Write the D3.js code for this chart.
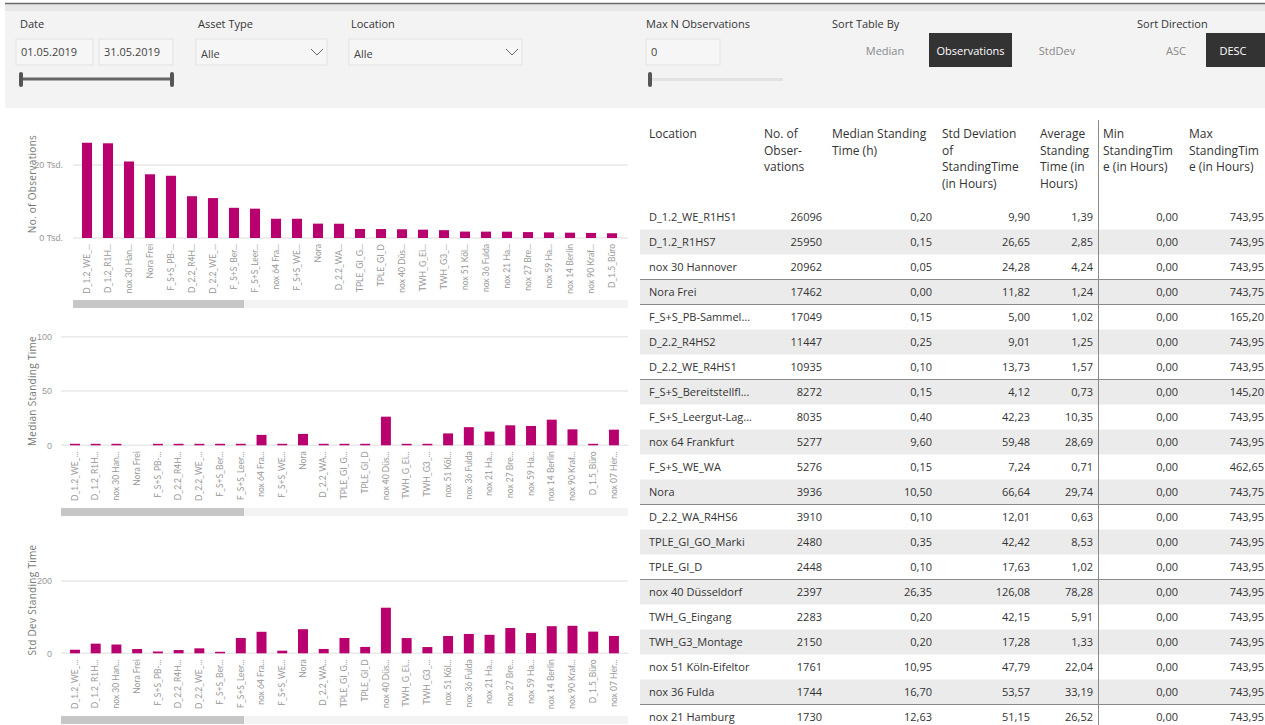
<!DOCTYPE html>
<html>
<head>
<meta charset="utf-8">
<script src="https://cdn.jsdelivr.net/npm/d3@7"></script>
<style>
  body { margin: 0; background: #fff; }
  svg { display: block; font-family: "Segoe UI", "Open Sans", sans-serif; }
</style>
</head>
<body>
<script>
// locations, sorted by number of observations (desc)
const locations = [
  'D_1.2_WE_R1HS1', 'D_1.2_R1HS7', 'nox 30 Hannover', 'Nora Frei', 'F_S+S_PB-Sammelplatz',
  'D_2.2_R4HS2', 'D_2.2_WE_R4HS1', 'F_S+S_Bereitstellfläche', 'F_S+S_Leergut-Lager', 'nox 64 Frankfurt',
  'F_S+S_WE_WA', 'Nora', 'D_2.2_WA_R4HS6', 'TPLE_GI_GO_Marki', 'TPLE_GI_D',
  'nox 40 Düsseldorf', 'TWH_G_Eingang', 'TWH_G3_Montage', 'nox 51 Köln-Eifeltor', 'nox 36 Fulda',
  'nox 21 Hamburg', 'nox 27 Bremen', 'nox 59 Hamm', 'nox 14 Berlin', 'nox 90 Kraftshof',
  'D_1.5_Büro', 'nox 07 Hermsdorf'
];
const observations = [26096, 25950, 20962, 17462, 17049, 11447, 10935, 8272, 8035, 5277,
  5276, 3936, 3910, 2480, 2448, 2397, 2283, 2150, 1761, 1744, 1730, 1620, 1540, 1460, 1390, 1300, 1220];
const medianTime = [0.20, 0.15, 0.05, 0.00, 0.15, 0.25, 0.10, 0.15, 0.40, 9.60,
  0.15, 10.50, 0.10, 0.35, 0.10, 26.35, 0.20, 0.20, 10.95, 16.70, 12.63, 18.4, 17.8, 23.6, 14.7, 0.2, 14.4];
const stdDevTime = [9.90, 26.65, 24.28, 11.82, 5.00, 9.01, 13.73, 4.12, 42.23, 59.48,
  7.24, 66.64, 12.01, 42.42, 17.63, 126.08, 42.15, 17.28, 47.79, 53.57, 51.15, 70, 56, 75, 76, 60, 48];
const avgTime = [1.39, 2.85, 4.24, 1.24, 1.02, 1.25, 1.57, 0.73, 10.35, 28.69,
  0.71, 29.74, 0.63, 8.53, 1.02, 78.28, 5.91, 1.33, 22.04, 33.19, 26.52];
const minTime = [0, 0, 0, 0, 0, 0, 0, 0, 0, 0, 0, 0, 0, 0, 0, 0, 0, 0, 0, 0, 0];
const maxTime = [743.95, 743.95, 743.95, 743.75, 165.20, 743.95, 743.95, 145.20, 743.95, 743.95,
  462.65, 743.75, 743.95, 743.95, 743.95, 743.95, 743.95, 743.95, 743.95, 743.95, 743.95];

const obsTicks = [0, 20000];
const medianTicks = [0, 50, 100];
const stdTicks = [0, 200];

const sortByOptions = ['Median', 'Observations', 'StdDev'];
const sortDirOptions = ['ASC', 'DESC'];

const de = d3.formatLocale({ decimal: ',', thousands: '.', grouping: [3], currency: ['', '€'] });
const f2 = de.format('.2f');

const W = 1265, H = 725;
const barColor = '#b8006e';

const svg = d3.select('body').append('svg').attr('width', W).attr('height', H);

function fitText(sel, maxW) {
  sel.each(function () {
    const t = d3.select(this);
    let s = t.text();
    if (this.getComputedTextLength() <= maxW) return;
    while (s.length > 1) {
      s = s.slice(0, -1);
      t.text(s + '...');
      if (this.getComputedTextLength() <= maxW) break;
    }
  });
}

// ---------- filter panel ----------
const panel = svg.append('g');
panel.append('rect').attr('x', 5).attr('y', 3).attr('width', W - 5).attr('height', 105).attr('fill', '#f3f3f3');
panel.append('rect').attr('x', 5).attr('y', 4).attr('width', W - 5).attr('height', 7).attr('fill', '#e7e7e7');
panel.append('line').attr('x1', 5).attr('x2', W).attr('y1', 3.5).attr('y2', 3.5).attr('stroke', '#6a6a6a').attr('stroke-width', 1.5);

const lbl = (x, t) => panel.append('text').attr('x', x).attr('y', 28).attr('font-size', 11).attr('fill', '#333').text(t);
lbl(20, 'Date'); lbl(198, 'Asset Type'); lbl(351, 'Location');
lbl(646, 'Max N Observations'); lbl(832, 'Sort Table By'); lbl(1137, 'Sort Direction');

function box(x, w, txt, chevron) {
  panel.append('rect').attr('x', x).attr('y', 39).attr('width', w).attr('height', 26)
    .attr('fill', '#f6f6f6').attr('stroke', '#e2e2e2');
  panel.append('text').attr('x', x + 5).attr('y', chevron ? 58 : 56).attr('font-size', 11).attr('fill', '#444').text(txt);
  if (chevron) {
    const cx = x + w - 10;
    panel.append('path').attr('d', `M${cx - 6},49 L${cx},55 L${cx + 6},49`)
      .attr('fill', 'none').attr('stroke', '#666').attr('stroke-width', 1);
  }
}
box(16, 77, '01.05.2019'); box(99, 74, '31.05.2019');
box(196, 131, 'Alle', true); box(349, 173, 'Alle', true);
box(646, 74, '0');

// date slider
panel.append('line').attr('x1', 21).attr('x2', 172).attr('y1', 79).attr('y2', 79).attr('stroke', '#666').attr('stroke-width', 3);
[19, 170].forEach(x => panel.append('rect').attr('x', x).attr('y', 72).attr('width', 4).attr('height', 15).attr('rx', 2).attr('fill', '#555'));
// max n slider
panel.append('rect').attr('x', 650).attr('y', 78).attr('width', 133).attr('height', 3).attr('fill', '#e2e2e2');
panel.append('rect').attr('x', 648).attr('y', 72).attr('width', 4).attr('height', 15).attr('rx', 2).attr('fill', '#555');

// sort buttons
const sortX = [885, 970.5, 1057];
sortByOptions.forEach((t, i) => {
  const active = t === 'Observations';
  if (active) panel.append('rect').attr('x', 929).attr('y', 33).attr('width', 83).attr('height', 34).attr('fill', '#333');
  panel.append('text').attr('x', sortX[i]).attr('y', 55).attr('text-anchor', 'middle')
    .attr('font-size', 11).attr('fill', active ? '#fff' : '#888').text(t);
});
sortDirOptions.forEach((t, i) => {
  const active = t === 'DESC';
  if (active) panel.append('rect').attr('x', 1206).attr('y', 33).attr('width', 59).attr('height', 34).attr('fill', '#333');
  panel.append('text').attr('x', i === 0 ? 1176 : 1233).attr('y', 55).attr('text-anchor', 'middle')
    .attr('font-size', 11).attr('fill', active ? '#fff' : '#888').text(t);
});

// ---------- bar charts ----------
function barChart(o) {
  const g = svg.append('g');
  const names = locations.slice(0, o.n);
  const vals = o.values.slice(0, o.n);
  const x = d3.scaleBand().domain(names).range(o.xr).paddingInner(0.52).paddingOuter(0.26);
  const y = d3.scaleLinear().domain(o.yd).range(o.yr);

  g.selectAll('.grid').data(o.ticks).enter().append('line')
    .attr('x1', o.gx0).attr('x2', 628).attr('y1', d => y(d)).attr('y2', d => y(d))
    .attr('stroke', '#e9e9e9').attr('stroke-width', 1.5);

  g.append('text').attr('transform', `translate(36,${o.titleY}) rotate(-90)`).attr('text-anchor', 'middle')
    .attr('font-size', 10).attr('fill', '#777').attr('letter-spacing', 0.3).text(o.title);

  const ax = g.append('g').attr('transform', `translate(${o.tickRight},0)`)
    .call(d3.axisLeft(y).tickValues(o.ticks).tickFormat(o.fmt).tickSize(0).tickPadding(0));
  ax.select('.domain').remove();
  ax.selectAll('text').attr('font-size', 9).attr('fill', '#999').attr('font-family', null);

  g.selectAll('.bar').data(vals).enter().append('rect')
    .attr('x', (d, i) => x(names[i]))
    .attr('width', x.bandwidth())
    .attr('y', d => y(0) - Math.max(y(0) - y(d), d > 0 ? 1.5 : 0))
    .attr('height', d => Math.max(y(0) - y(d), d > 0 ? 1.5 : 0))
    .attr('fill', barColor);

  const xa = g.append('g').attr('transform', `translate(0,${y(0) + 6})`)
    .call(d3.axisBottom(x).tickSize(0).tickPadding(0));
  xa.select('.domain').remove();
  xa.selectAll('text').attr('font-size', 8.5).attr('fill', '#999').attr('font-family', 'Lato, "Open Sans", sans-serif')
    .attr('transform', 'rotate(-90)').attr('text-anchor', 'end').attr('x', 0).attr('y', 0).attr('dy', '0.32em')
    .call(fitText, 50);

  g.append('rect').attr('x', o.gx0).attr('y', o.scrollY).attr('width', 628 - o.gx0).attr('height', 8).attr('fill', '#f3f3f3');
  g.append('rect').attr('x', o.gx0).attr('y', o.scrollY).attr('width', 244 - o.gx0).attr('height', 8).attr('fill', '#c6c6c6');
}

barChart({ n: 26, values: observations, xr: [76.5, 622.5], yd: [0, 30000], yr: [238, 128.5],
  ticks: obsTicks, fmt: d => (d / 1000) + ' Tsd.', tickRight: 63, gx0: 73,
  title: 'No. of Observations', titleY: 184, scrollY: 300 });
barChart({ n: 27, values: medianTime, xr: [64.6, 624.3], yd: [0, 100], yr: [445.3, 336.7],
  ticks: medianTicks, fmt: d => d, tickRight: 52, gx0: 61,
  title: 'Median Standing Time', titleY: 391, scrollY: 508 });
barChart({ n: 27, values: stdDevTime, xr: [64.6, 624.3], yd: [0, 300], yr: [653.3, 544.8],
  ticks: stdTicks, fmt: d => d, tickRight: 52, gx0: 61,
  title: 'Std Dev Standing Time', titleY: 600, scrollY: 716 });

// ---------- table ----------
const tbl = svg.append('g');
const headers = [
  { x: 649, lines: ['Location'] },
  { x: 764, lines: ['No. of', 'Obser-', 'vations'] },
  { x: 832, lines: ['Median Standing', 'Time (h)'] },
  { x: 942, lines: ['Std Deviation', 'of', 'StandingTime', '(in Hours)'] },
  { x: 1040, lines: ['Average', 'Standing', 'Time (in', 'Hours)'] },
  { x: 1103, lines: ['Min', 'StandingTim', 'e (in Hours)'] },
  { x: 1189, lines: ['Max', 'StandingTim', 'e (in Hours)'] }
];
headers.forEach(h => {
  h.lines.forEach((t, j) => tbl.append('text').attr('x', h.x).attr('y', 138 + j * 16.6)
    .attr('font-size', 12).attr('fill', '#333').text(t));
});

const nRows = avgTime.length;
const rowY = d3.scaleLinear().domain([0, 1]).range([204.5, 229.5]);
const sepRows = [3, 4, 7, 12, 15, 20];

const rows = tbl.selectAll('.row').data(d3.range(nRows)).enter().append('g')
  .attr('transform', i => `translate(0,${rowY(i)})`);
rows.filter(i => i % 2 === 1).append('rect').attr('x', 640).attr('width', W - 640).attr('height', 25).attr('fill', '#ebebeb');

const cols = [
  { x: 649, anchor: 'start', v: i => locations[i] },
  { x: 822, anchor: 'end', v: i => observations[i] },
  { x: 932, anchor: 'end', v: i => f2(medianTime[i]) },
  { x: 1030, anchor: 'end', v: i => f2(stdDevTime[i]) },
  { x: 1093, anchor: 'end', v: i => f2(avgTime[i]) },
  { x: 1178, anchor: 'end', v: i => f2(minTime[i]) },
  { x: 1264, anchor: 'end', v: i => f2(maxTime[i]) }
];
cols.forEach((c, ci) => {
  const t = rows.append('text').attr('x', c.x).attr('y', 16.5).attr('text-anchor', c.anchor)
    .attr('font-size', 11).attr('fill', '#333').text(i => c.v(i));
  if (ci === 0) t.call(fitText, 104);
});

tbl.selectAll('.sep').data(sepRows).enter().append('line')
  .attr('x1', 640).attr('x2', W).attr('y1', d => rowY(d)).attr('y2', d => rowY(d))
  .attr('stroke', '#8a8a8a').attr('stroke-width', 1);

tbl.append('line').attr('x1', 1098.5).attr('x2', 1098.5).attr('y1', 120).attr('y2', H)
  .attr('stroke', '#8a8a8a').attr('stroke-width', 1);
</script>
</body>
</html>
